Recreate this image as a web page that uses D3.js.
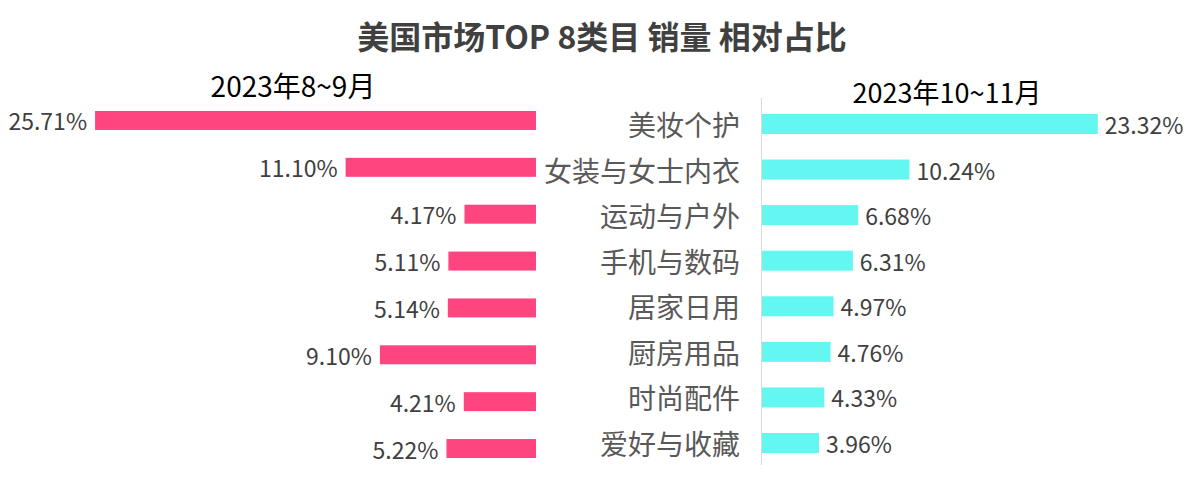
<!DOCTYPE html>
<html>
<head>
<meta charset="utf-8">
<script src="https://cdn.jsdelivr.net/npm/d3@7"></script>
<style>
  html, body { margin: 0; padding: 0; background: #fff; }
  svg { display: block; font-family: "Noto Sans CJK SC", "Noto Sans", sans-serif; }
</style>
</head>
<body>
<svg id="chart" width="1191" height="489"></svg>
<script>
const title = "美国市场TOP 8类目 销量 相对占比";
const leftPeriod = "2023年8~9月";
const rightPeriod = "2023年10~11月";
const categories = ["美妆个护", "女装与女士内衣", "运动与户外", "手机与数码", "居家日用", "厨房用品", "时尚配件", "爱好与收藏"];
const leftValues = [25.71, 11.10, 4.17, 5.11, 5.14, 9.10, 4.21, 5.22];
const rightValues = [23.32, 10.24, 6.68, 6.31, 4.97, 4.76, 4.33, 3.96];

const svg = d3.select("#chart");
const pink = "#FF4580", cyan = "#64F7F2";

// scales
const xLeft = d3.scaleLinear().domain([0, 30]).range([536, 536 - 17.15 * 30]);
const xRight = d3.scaleLinear().domain([0, 30]).range([762, 762 + 14.4 * 30]);
const yLeft = d3.scaleBand().domain(categories).range([83.1, 485.9]).padding(0.595);
const yRight = d3.scaleBand().domain(categories).range([88.4, 478.6]).padding(0.561);

// title
svg.append("text").attr("x", 602).attr("y", 35)
  .attr("text-anchor", "middle").attr("dominant-baseline", "central")
  .attr("font-size", 32).attr("font-weight", "bold").attr("fill", "#404040")
  .text(title);

svg.append("text").attr("x", 293).attr("y", 85)
  .attr("text-anchor", "middle").attr("dominant-baseline", "central")
  .attr("font-size", 28).attr("fill", "#000").text(leftPeriod);
svg.append("text").attr("x", 947).attr("y", 91)
  .attr("text-anchor", "middle").attr("dominant-baseline", "central")
  .attr("font-size", 27).attr("fill", "#000").text(rightPeriod);

// divider line
svg.append("line").attr("x1", 761.5).attr("x2", 761.5).attr("y1", 98).attr("y2", 465)
  .attr("stroke", "#d9d9d9").attr("stroke-width", 1);

const L = categories.map((c, i) => ({ c, v: leftValues[i] }));
const R = categories.map((c, i) => ({ c, v: rightValues[i] }));

// left bars
svg.append("g").selectAll("rect").data(L).join("rect")
  .attr("x", d => xLeft(d.v)).attr("width", d => xLeft(0) - xLeft(d.v))
  .attr("y", d => yLeft(d.c)).attr("height", yLeft.bandwidth())
  .attr("fill", pink);
svg.append("g").selectAll("text").data(L).join("text")
  .attr("x", d => xLeft(d.v) - 8).attr("y", d => yLeft(d.c) + yLeft.bandwidth() / 2)
  .attr("text-anchor", "end").attr("dominant-baseline", "central")
  .attr("font-size", 23).attr("fill", "#404040")
  .text(d => d.v.toFixed(2) + "%");

// right bars
svg.append("g").selectAll("rect").data(R).join("rect")
  .attr("x", xRight(0)).attr("width", d => xRight(d.v) - xRight(0))
  .attr("y", d => yRight(d.c)).attr("height", yRight.bandwidth())
  .attr("fill", cyan);
svg.append("g").selectAll("text").data(R).join("text")
  .attr("x", d => xRight(d.v) + 7).attr("y", d => yRight(d.c) + yRight.bandwidth() / 2)
  .attr("text-anchor", "start").attr("dominant-baseline", "central")
  .attr("font-size", 23).attr("fill", "#404040")
  .text(d => d.v.toFixed(2) + "%");

// category labels
svg.append("g").selectAll("text").data(categories).join("text")
  .attr("x", 740).attr("y", d => yRight(d) + yRight.bandwidth() / 2)
  .attr("text-anchor", "end").attr("dominant-baseline", "central")
  .attr("font-size", 28).attr("fill", "#595959")
  .text(d => d);
</script>
</body>
</html>
